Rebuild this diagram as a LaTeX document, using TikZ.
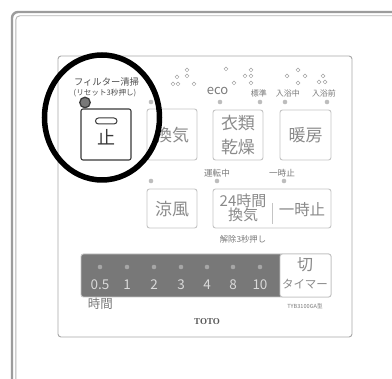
\documentclass[tikz,border=0pt]{standalone}
\usepackage{fontspec}
\setmainfont{Noto Sans CJK JP}
\newfontfamily\totofont{Liberation Serif}
\definecolor{framec}{HTML}{9C9C9C}
\definecolor{framein}{HTML}{B4B4B4}
\definecolor{panelc}{HTML}{A8A8A8}
\definecolor{btnc}{HTML}{C4C4C4}
\definecolor{btntextc}{HTML}{8A8A8A}
\definecolor{darkc}{HTML}{3A3A3A}
\definecolor{lblc}{HTML}{7A7A7A}
\definecolor{dotc}{HTML}{BDBDBD}
\definecolor{odotc}{HTML}{A0A0A0}
\definecolor{barc}{HTML}{787878}
\definecolor{bardot}{HTML}{A6A6A6}
\definecolor{numc}{HTML}{D9D9D9}
\tikzset{
  lightbtn/.style={draw=btnc, line width=0.9pt, rounded corners=2.5pt, fill=white},
  darkbtn/.style={draw=darkc, line width=1.1pt, rounded corners=2pt, fill=white},
  btntext/.style={text=btntextc, font=\fontsize{17}{24}\selectfont, inner sep=0pt, align=center},
  lbl/.style={text=lblc, font=\fontsize{8}{9}\selectfont, inner sep=0pt},
  dotn/.style={circle, fill=dotc, inner sep=0pt, minimum size=4.6pt},
  odotn/.style={circle, draw=odotc, line width=0.5pt, inner sep=0pt, minimum size=3.8pt},
  numn/.style={text=numc, font=\fontsize{13.5}{14}\selectfont, inner sep=0pt},
  bdot/.style={circle, fill=bardot, inner sep=0pt, minimum size=4.6pt},
}
\begin{document}
\begin{tikzpicture}[x=1pt,y=-1pt]
\useasboundingbox (0,0) rectangle (392,379);
\fill[white] (0,0) rectangle (392,379);
\begin{scope}
\clip (0,0) rectangle (392,379);
\draw[framec, line width=2.4pt, rounded corners=6pt] (12,12) rectangle (460,460);
\draw[framein, line width=0.9pt, rounded corners=4pt] (15.8,15.8) rectangle (460,460);
\end{scope}
% panel
\draw[panelc, line width=0.9pt, rounded corners=3pt] (58,56) rectangle (352,337);
% small open circles
\foreach \p [count=\i] in {(173,84),(178,84),(177,77),(187,70),(187,76),(194,84),
  (226,69),(234,83),(245,76),(251,70),(251,76),(251,83),
  (298,70),(287,76),(305,76),(298,83),(323,76),(319,82),(325,82)}
  \node[odotn] (oc\i) at \p {};
% top labels
\node[lbl, font=\fontsize{9.3}{10}\selectfont, text=darkc!90] (filter) at (106.5,81.5) {フィルター清掃};
\node[lbl, font=\fontsize{7.6}{9}\selectfont, text=darkc!90] (reset) at (105,93) {(リセット3秒押し)};
\node[lbl, font=\fontsize{13}{14}\selectfont, text=lblc] (eco) at (217.5,91) {eco};
\node[lbl] (hyoujun) at (259,93) {標準};
\node[lbl] (nyuyokuchu) at (288,93) {入浴中};
\node[lbl] (nyuyokumae) at (324,93) {入浴前};
% top dots
\node[circle, fill=barc, draw=darkc, line width=1.3pt, minimum size=10.5pt, inner sep=0pt] (fdot) at (85,102.5) {};
\node[dotn] (d1) at (151,102) {};
\node[dotn] (d2) at (220,102) {};
\node[dotn] (d3) at (260,102) {};
\node[dotn] (d4) at (285,102) {};
\node[dotn] (d5) at (327,102) {};
% row 1 buttons
\draw[darkbtn] (81,109) rectangle (131,160);
\draw[darkc, line width=1pt, rounded corners=3pt] (95.5,118) rectangle (117,124);
\node[btntext, text=darkc, font=\fontsize{18}{20}\selectfont] (tome) at (106,137) {止};
\draw[lightbtn] (147,109) rectangle (197,160);
\node[btntext] (kanki) at (172,135.5) {換気};
\draw[lightbtn] (213,110) rectangle (263,160);
\node[btntext] (irui) at (238,135) {衣類\\乾燥};
\draw[lightbtn] (280,110) rectangle (331,160);
\node[btntext] (danbou) at (305.5,135.5) {暖房};
% row 2 labels & dots
\node[lbl, font=\fontsize{8.6}{9}\selectfont] (unten) at (217,173) {運転中};
\node[lbl, font=\fontsize{8.6}{9}\selectfont] (ichiji) at (282,173) {一時止};
\node[dotn] (d6) at (151,181) {};
\node[dotn] (d7) at (217,181) {};
\node[dotn] (d8) at (284,181) {};
% row 2 buttons
\draw[lightbtn] (147,189) rectangle (197,228);
\node[btntext] (ryoufu) at (172,209) {涼風};
\draw[lightbtn] (213,189) rectangle (331,228);
\draw[btnc, line width=0.9pt] (272,203) -- (272,224);
\node[btntext, font=\fontsize{15}{14}\selectfont] (h24) at (243,201) {24時間};
\node[btntext, font=\fontsize{15}{14}\selectfont] (kanki2) at (243,215) {換気};
\node[btntext, font=\fontsize{15.5}{14}\selectfont] (ichijidome) at (302,210) {一時止};
\node[lbl, font=\fontsize{8.3}{9}\selectfont] (kaijo) at (243,239) {解除3秒押し};
% timer bar
\draw[draw=btnc, fill=barc, line width=0.9pt, rounded corners=2.5pt] (81,254) rectangle (331,297);
\draw[draw=btnc, fill=white, line width=0.9pt, rounded corners=2.5pt] (280,254) rectangle (331,297);
\foreach \x/\t [count=\i] in {100/0.5,127/1,154/2,181/3,207/4,233/8,260/10}{
  \node[bdot] (td\i) at (\x,267) {};
  \node[numn] (tn\i) at (\x,284.5) {\t};
}
\node[btntext, font=\fontsize{16}{16}\selectfont] (kiri) at (305,265) {切};
\node[btntext, font=\fontsize{11.5}{12}\selectfont] (timer) at (305,284.5) {タイマー};
% bottom texts
\node[lbl, font=\fontsize{12.5}{13}\selectfont] (jikan) at (100.5,304) {時間};
\node[lbl, font=\fontsize{5.6}{6}\selectfont] (model) at (305,306) {TYB3100GA型};
\node[inner sep=0pt, text=darkc!85, font=\totofont\bfseries\fontsize{9}{10}\selectfont] (toto) at (207,322) {TOTO};
% highlight circle
\draw[black, line width=5.5pt] (102,117.5) ellipse [x radius=57.5pt, y radius=62.5pt];
\end{tikzpicture}
\end{document}
